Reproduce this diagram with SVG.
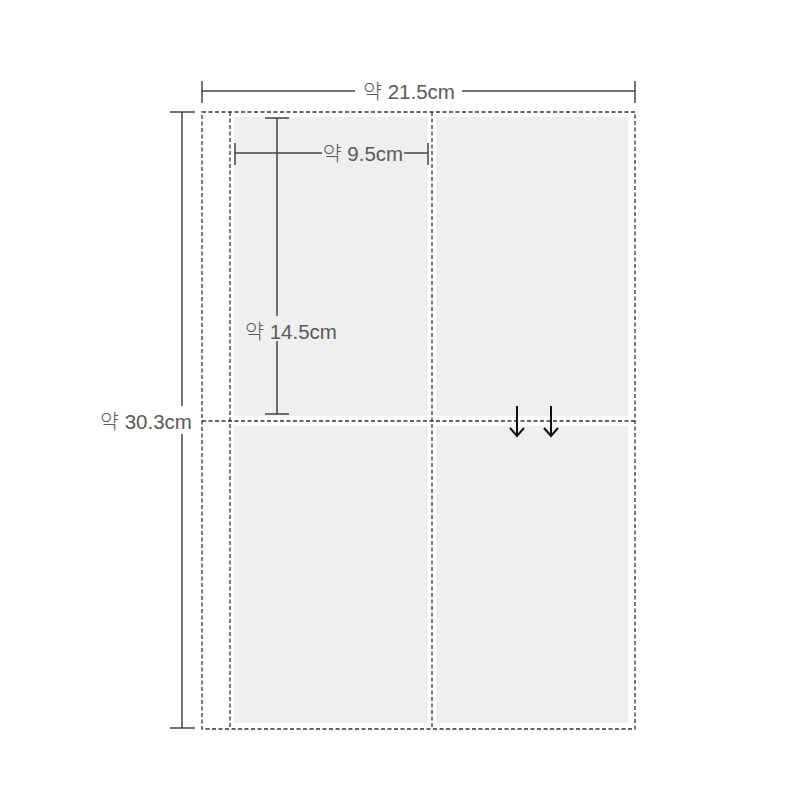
<svg xmlns="http://www.w3.org/2000/svg" width="800" height="800" viewBox="0 0 800 800">
<style>
.panel{fill:#efefef}
.dash{fill:none;stroke:#333;stroke-width:1.3;stroke-dasharray:4 2.5}
.dim{stroke:#444;stroke-width:1.5;fill:none}
.lbl{font-family:"Liberation Sans","Noto Sans CJK KR",sans-serif;font-size:20.5px;fill:#5a5a5a;font-weight:300}
.arr{stroke:#111;stroke-width:2;fill:none}
</style>
<rect width="800" height="800" fill="#fff"/>
<g id="panels">
<rect class="panel" x="234" y="117" width="194" height="299"/>
<rect class="panel" x="436" y="117" width="192" height="299"/>
<rect class="panel" x="234" y="426" width="194" height="297"/>
<rect class="panel" x="436" y="426" width="192" height="297"/>
</g>
<g id="sheet">
<rect class="dash" x="202" y="112" width="433" height="617"/>
<line class="dash" x1="230" y1="112" x2="230" y2="729"/>
<line class="dash" x1="432" y1="112" x2="432" y2="729"/>
<line class="dash" x1="202" y1="421" x2="635" y2="421"/>
</g>
<g id="connectors">
<g id="dim-width">
<line class="dim" x1="202" y1="91" x2="355" y2="91"/>
<line class="dim" x1="462" y1="91" x2="635" y2="91"/>
<line class="dim" x1="202" y1="81" x2="202" y2="103"/>
<line class="dim" x1="635" y1="81" x2="635" y2="103"/>
</g>
<g id="dim-height">
<line class="dim" x1="182" y1="112" x2="182" y2="728"/>
<line class="dim" x1="170" y1="112" x2="195" y2="112"/>
<line class="dim" x1="170" y1="728" x2="195" y2="728"/>
</g>
<g id="dim-card-w">
<line class="dim" x1="235" y1="153" x2="322" y2="153"/>
<line class="dim" x1="404" y1="153" x2="428" y2="153"/>
<line class="dim" x1="235" y1="143" x2="235" y2="165"/>
<line class="dim" x1="428" y1="143" x2="428" y2="165"/>
</g>
<g id="dim-card-h">
<line class="dim" x1="277" y1="118" x2="277" y2="316"/>
<line class="dim" x1="277" y1="341" x2="277" y2="414"/>
<line class="dim" x1="265" y1="118" x2="289" y2="118"/>
<line class="dim" x1="265" y1="414" x2="289" y2="414"/>
</g>
<g id="arrows">
<path class="arr" d="M517 406 V436 M510 428 L517 436 L524 428"/>
<path class="arr" d="M551 406 V436 M544 428 L551 436 L558 428"/>
</g>
</g>
<g id="labels">
<text class="lbl" x="409" y="99" text-anchor="middle">약 21.5cm</text>
<rect x="96" y="406" width="100" height="28" fill="#fff"/>
<text class="lbl" x="146" y="429" text-anchor="middle">약 30.3cm</text>
<text class="lbl" x="363" y="161" text-anchor="middle">약 9.5cm</text>
<text class="lbl" x="291" y="339" text-anchor="middle">약 14.5cm</text>
</g>
</svg>
